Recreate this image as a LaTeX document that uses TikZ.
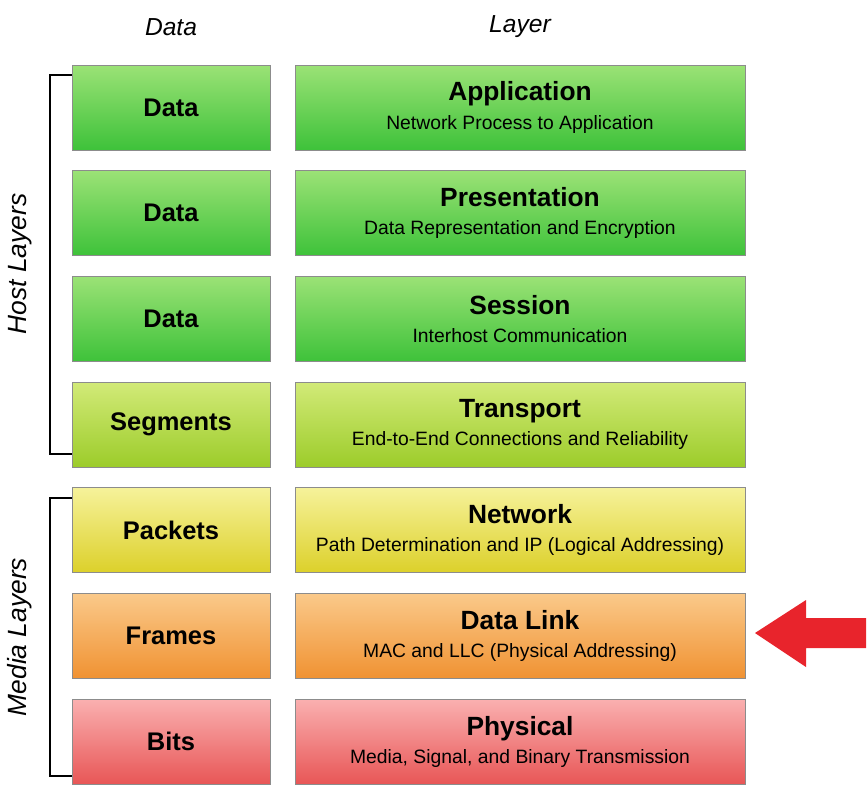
\documentclass[tikz,border=0pt]{standalone}
\usepackage{fontspec}
\setmainfont{Liberation Sans}
\usetikzlibrary{positioning}
\definecolor{grnT}{HTML}{9BE276}\definecolor{grnB}{HTML}{3EC23A}
\definecolor{limT}{HTML}{D2EA78}\definecolor{limB}{HTML}{9CCC2A}
\definecolor{yelT}{HTML}{F6F29A}\definecolor{yelB}{HTML}{DCD02A}
\definecolor{orgT}{HTML}{FAC98A}\definecolor{orgB}{HTML}{F09232}
\definecolor{redT}{HTML}{FAB0B0}\definecolor{redB}{HTML}{E85656}
\definecolor{arrowred}{HTML}{E8242C}
\tikzset{
  unit/.style={draw=black!45, minimum width=198*0.02cm, minimum height=85*0.02cm,
    inner sep=0pt, font=\fontsize{14.5}{16}\selectfont\bfseries},
  layer/.style={draw=black!45, minimum width=450*0.02cm, minimum height=85*0.02cm,
    inner sep=0pt, align=center},
  sh/.style 2 args={top color=#1, bottom color=#2},
  head/.style={font=\fontsize{14}{16}\selectfont\itshape},
  bracket/.style={draw=black, line width=0.8pt},
}
\begin{document}
\begin{tikzpicture}[x=0.02cm,y=-0.02cm]
  \useasboundingbox (0,0) rectangle (868,801);
  \node[head] (hdata) at (171,27) {Data};
  \node[head] (hlayer) at (520,27) {Layer};
  \foreach \i/\u/\t/\s/\ct/\cb in {
      1/Data/Application/Network Process to Application/grnT/grnB,
      2/Data/Presentation/Data Representation and Encryption/grnT/grnB,
      3/Data/Session/Interhost Communication/grnT/grnB,
      4/Segments/Transport/End-to-End Connections and Reliability/limT/limB,
      5/Packets/Network/Path Determination and IP (Logical Addressing)/yelT/yelB,
      6/Frames/Data Link/MAC and LLC (Physical Addressing)/orgT/orgB,
      7/Bits/Physical/{Media, Signal, and Binary Transmission}/redT/redB} {
    \pgfmathsetmacro{\yy}{107.5+(\i-1)*105.7}
    \node[unit, sh={\ct}{\cb}] (u\i) at (171,\yy) {\u};
    \node[layer, sh={\ct}{\cb}] (l\i) at (520,\yy)
      {{\fontsize{15}{17}\selectfont\bfseries \t}\\[4pt]{\fontsize{11}{12}\selectfont \s}};
  }
  % brackets
  \coordinate (hb1) at (50,75);
  \coordinate (hb2) at (50,454);
  \coordinate (mb1) at (50,498);
  \coordinate (mb2) at (50,776);
  \draw[bracket] (u1.west |- hb1) -- (hb1) -- (hb2) -- (u4.west |- hb2);
  \draw[bracket] (u5.west |- mb1) -- (mb1) -- (mb2) -- (u7.west |- mb2);
  \node[head, rotate=90, font=\fontsize{15}{17}\selectfont\itshape] (host) at (20,264) {Host Layers};
  \node[head, rotate=90, font=\fontsize{15}{17}\selectfont\itshape] (media) at (20,637) {Media Layers};
  % arrow
  \coordinate (tip) at (755,633);
  \fill[arrowred] (tip) -- (806,600) -- (806,618) -- (866,618) -- (866,648)
    -- (806,648) -- (806,667) -- cycle;
\end{tikzpicture}
\end{document}
